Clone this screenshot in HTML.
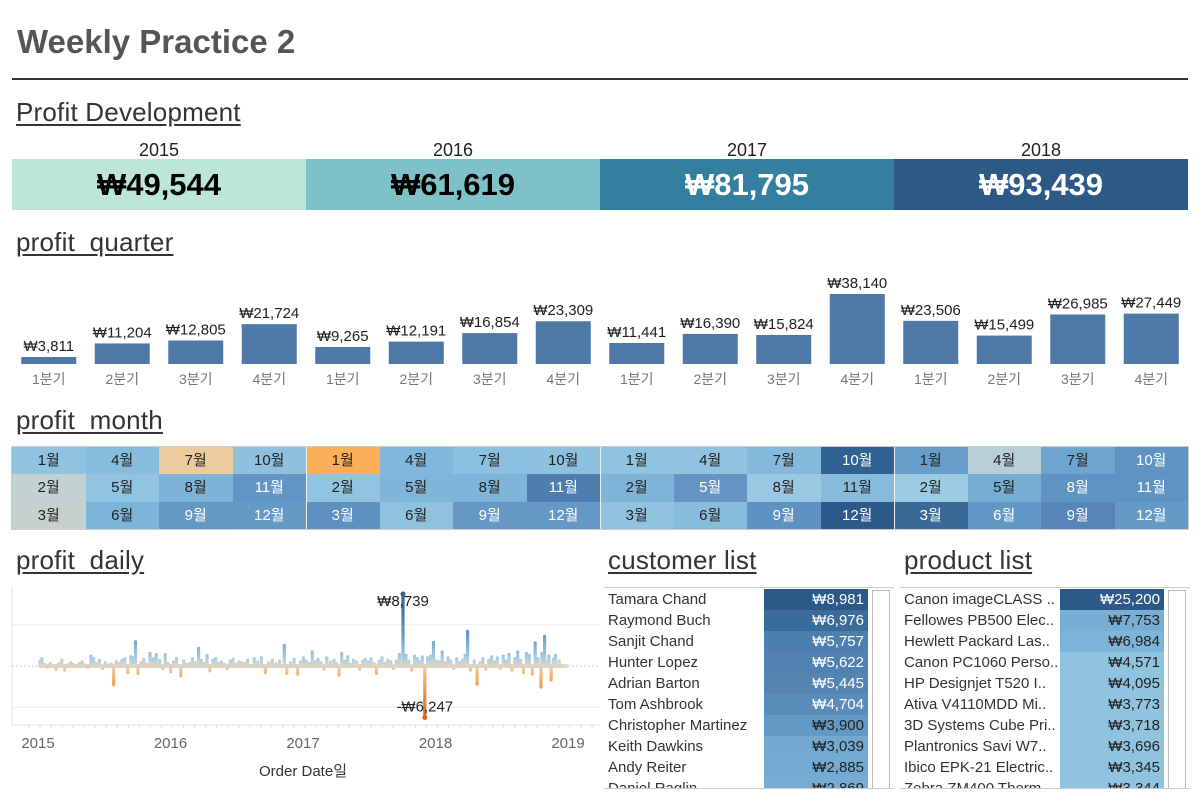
<!DOCTYPE html>
<html><head><meta charset="utf-8">
<style>
body{margin:0;width:1200px;height:800px;background:#fff;font-family:"Liberation Sans","Noto Sans CJK KR",sans-serif;position:relative;overflow:hidden;color:#333}
.abs{position:absolute}
.h2{font-size:26px;text-decoration:underline;color:#333;text-underline-offset:3px;letter-spacing:0.2px}
.yr{font-size:18px;color:#222;text-align:center;width:294px}
.kpi{height:51px;top:159px;font-size:31px;font-weight:bold;display:flex;align-items:center;justify-content:center}
.row{position:absolute;height:21px;font-size:15px;line-height:21px}
</style></head><body>
<div class="abs" style="left:17px;top:23px;font-size:33px;font-weight:bold;color:#555">Weekly Practice 2</div>
<div class="abs" style="left:12px;top:78px;width:1176px;height:2px;background:#333"></div>

<div class="abs h2" style="left:16px;top:97px">Profit Development</div>
<div class="abs yr" style="left:12px;top:140px">2015</div>
<div class="abs yr" style="left:306px;top:140px">2016</div>
<div class="abs yr" style="left:600px;top:140px">2017</div>
<div class="abs yr" style="left:894px;top:140px">2018</div>
<div class="abs kpi" style="left:12px;width:294px;background:#bde5d9;color:#000">₩49,544</div>
<div class="abs kpi" style="left:306px;width:294px;background:#7fc1c9;color:#000">₩61,619</div>
<div class="abs kpi" style="left:600px;width:294px;background:#347fa0;color:#fff">₩81,795</div>
<div class="abs kpi" style="left:894px;width:294px;background:#2c5985;color:#fff">₩93,439</div>

<div class="abs h2" style="left:16px;top:227px">profit_quarter</div>
<svg class="abs" id="qchart" style="left:0;top:260px" width="1200" height="130"></svg>

<div class="abs h2" style="left:16px;top:405px">profit_month</div>
<div class="abs" id="heat" style="left:12px;top:447px;width:1176px;height:82px;outline:1px solid #ccc"></div>

<div class="abs h2" style="left:16px;top:545px">profit_daily</div>
<svg class="abs" id="dchart" style="left:0;top:580px" width="600" height="220"></svg>

<div class="abs h2" style="left:608px;top:545px">customer list</div>
<div class="abs h2" style="left:904px;top:545px">product list</div>
<div class="abs" id="cust" style="left:604px;top:587px;width:290px;height:200px;border-top:1px solid #ccc;border-bottom:1px solid #ccc;overflow:hidden"></div>
<div class="abs" id="prod" style="left:900px;top:587px;width:290px;height:200px;border-top:1px solid #ccc;border-bottom:1px solid #ccc;overflow:hidden"></div>

<script>
// ---------- quarter chart ----------
const quarterLabels=["1분기","2분기","3분기","4분기","1분기","2분기","3분기","4분기","1분기","2분기","3분기","4분기","1분기","2분기","3분기","4분기"];
const quarterValues=[3811,11204,12805,21724,9265,12191,16854,23309,11441,16390,15824,38140,23506,15499,26985,27449];
const NS="http://www.w3.org/2000/svg";
function mk(p,t,a){const e=document.createElementNS(NS,t);for(const k in a)e.setAttribute(k,a[k]);p.appendChild(e);return e;}
const fmt=v=>(v<0?"-":"")+"₩"+Math.abs(v).toLocaleString("en-US");
(function(){
  const svg=document.getElementById('qchart');
  const base=104, maxH=70, maxV=38140;
  const y=v=>base-v/maxV*maxH;
  const x=i=>12+i*73.5+36.75;
  quarterValues.forEach((v,i)=>{
    const r=mk(svg,'rect',{x:x(i)-27.5,y:y(v),width:55,height:base-y(v),fill:'#4e79a7'});
    
    
    const t=mk(svg,'text',{x:x(i),y:y(v)-6,'text-anchor':'middle','font-size':15,fill:'#222'});
    t.textContent=fmt(v);
    
    
    const l=mk(svg,'text',{x:x(i),y:124,'text-anchor':'middle','font-size':14,fill:'#777'});
    l.textContent=quarterLabels[i];
    
    
  });
})();

// ---------- month heatmap ----------
const heatColors=[
 ["#8fc3e0","#c2d2d3","#c6d0cf","#86bddd","#90c4e0","#7db5d8","#eccc9f","#7db3d7","#6499c6","#8fc1df","#6396c4","#6599c6"],
 ["#fbaf58","#91c4e0","#5e90c0","#80b7da","#7eb5d9","#8fc2df","#8bc0de","#80b5d9","#6598c5","#8ec1df","#4d7ead","#6498c5"],
 ["#8fc3e0","#7fb3d7","#8fc3e0","#8fc3e0","#6394c3","#87bcdc","#85b9dc","#99c8e2","#5f92c1","#2f6292","#86bbdc","#2b5a88"],
 ["#679dc8","#9ccbe4","#386997","#b8cfd5","#77add3","#6397c5","#6ea5cf","#5f93c1","#5686b7","#5f93c1","#5f93c1","#669ac6"]];
const heatWhite=[[9,11,12],[3,9,11,12],[5,9,10,12],[3,6,8,9,10,11,12]];
(function(){
  const h=document.getElementById('heat');
  for(let y=0;y<4;y++)for(let m=1;m<=12;m++){
    const col=y*4+Math.floor((m-1)/3), row=(m-1)%3;
    const d=document.createElement('div');
    
    
    d.style.cssText=`position:absolute;left:${col*73.5}px;top:${row*27.3}px;width:73.5px;height:27.3px;background:${heatColors[y][m-1]};color:${heatWhite[y].includes(m)?'#fff':'#222'};font-size:15px;line-height:27px;text-align:center`;
    d.textContent=m+"월";
    h.appendChild(d);
  }
  [294,588,882].forEach(x=>{const s=document.createElement('div');s.style.cssText=`position:absolute;left:${x}px;top:0;width:1px;height:82px;background:#eee`;h.appendChild(s);});
})();

// ---------- daily chart ----------
const dailyDays=[0,5,12,20,28,36,44,52,60,68,76,84,92,100,108,116,124,132,140,148,156,164,172,180,188,196,203,210,218,226,234,242,250,256,263,270,278,286,294,303,312,320,330,338,345,352,360,368,376,388,396,404,412,420,428,437,444,452,460,468,476,484,492,500,508,516,524,532,540,548,556,564,572,580,590,600,610,621,630,640,650,660,673,680,690,700,710,718,726,734,742,750,758,766,774,782,790,800,810,816,824,831,840,848,856,864,872,880,888,896,904,912,920,927,934,942,950,958,966,974,982,990,1000,1008,1016,1024,1032,1040,1046,1053,1060,1068,1076,1084,1092,1100,1108,1116,1124,1132,1140,1148,1156,1164,1171,1178,1186,1196,1204,1212,1220,1228,1236,1244,1252,1260,1268,1276,1284,1292,1300,1308,1316,1324,1332,1340,1348,1356,1364,1372,1380,1383,1390,1396,1402,1408,1414,1420,1430,1438,1446,1455];
const dailyProfit=[600,900,200,-150,300,100,-400,250,700,-500,150,400,200,-100,300,500,150,-200,1200,900,300,700,-300,400,150,250,-2300,500,300,700,900,-800,1100,1000,2950,-900,400,800,200,1500,900,1400,700,-300,1400,300,-700,500,900,-1200,600,200,300,900,400,2150,700,300,1300,-600,700,900,300,500,200,-300,600,800,200,500,400,300,700,-100,900,500,1000,-800,400,700,300,600,2500,-900,400,800,-1000,500,1000,600,300,1700,500,800,400,-400,1000,500,700,300,-1100,1500,600,1100,200,700,500,-400,600,800,500,900,300,-900,600,1000,300,700,500,-300,600,1400,8739,1300,600,-500,1200,900,500,1100,-6247,1000,1200,2875,600,500,1700,400,1000,600,-300,900,400,700,1300,4200,-500,600,-2200,400,900,-400,700,1100,500,1000,-300,1200,600,1400,-500,900,1700,700,-800,1500,1300,-1000,2800,900,-2550,1500,3600,500,1200,-1700,800,1300,600];
(function(){
  const svg=document.getElementById('dchart');
  const zeroY=86, pxPer=72/8739;
  const y=v=>zeroY-v*pxPer;
  const x=d=>40+d/365*132.5;
  mk(svg,'line',{x1:12,y1:6,x2:12,y2:145,stroke:'#e4e4e4'});
  mk(svg,'line',{x1:12,y1:145,x2:600,y2:145,stroke:'#e4e4e4'});
  [5000,-5000].forEach(v=>mk(svg,'line',{x1:12,y1:y(v),x2:600,y2:y(v),stroke:'#ececec'}));
  mk(svg,'line',{x1:12,y1:zeroY,x2:600,y2:zeroY,stroke:'#bbb','stroke-dasharray':'1.5 2.5'});
  for(let m=-1;m<=52;m++){const xx=x(m*365/12);if(xx<14||xx>598)continue;mk(svg,'line',{x1:xx,y1:145,x2:xx,y2:148,stroke:'#ddd'});}
  const years=["2015","2016","2017","2018","2019"];
  years.forEach((yr,i)=>{const t=mk(svg,'text',{x:x(i*365)-2,y:168,'text-anchor':'middle','font-size':15,fill:'#666'});t.textContent=yr;
    });
  const at=mk(svg,'text',{x:303,y:196,'text-anchor':'middle','font-size':15,fill:'#333'});at.textContent="Order Date일";
  
  const defs=mk(svg,'defs',{});
  const g=mk(defs,'linearGradient',{id:'dg',gradientUnits:'userSpaceOnUse',x1:0,y1:y(8739),x2:0,y2:y(-6247)});
  [[0,'#2f5f8f'],[0.35,'#6a9dc8'],[0.52,'#a8cde4'],[0.585,'#ddd6c6'],[0.65,'#f5b66e'],[1,'#e0651f']].forEach(([o,c])=>mk(g,'stop',{offset:o,'stop-color':c}));
  let d='';
  dailyDays.forEach((dd,i)=>{d+=(i?'L':'M')+x(dd).toFixed(1)+','+y(0).toFixed(1)+'L'+x(dd).toFixed(1)+','+y(dailyProfit[i]).toFixed(1)+'L'+x(dd).toFixed(1)+','+y(0).toFixed(1);});
  const p=mk(svg,'path',{d:d,stroke:'url(#dg)','stroke-width':3.2,fill:'none','stroke-linejoin':'round'});
  
  
  mk(svg,'line',{x1:x(0),y1:zeroY,x2:x(dailyDays[dailyDays.length-1]),y2:zeroY,stroke:'#dcd2c2','stroke-width':4,opacity:0.8});
  const mi=dailyProfit.indexOf(Math.max(...dailyProfit)), ni=dailyProfit.indexOf(Math.min(...dailyProfit));
  [[mi,-1],[ni,1]].forEach(([i,s])=>{
    const xx=x(dailyDays[i]),yy=y(dailyProfit[i]);
    mk(svg,'circle',{cx:xx,cy:yy,r:2.5,fill:s<0?'#2f5f8f':'#e0651f'});
    const t=mk(svg,'text',{x:xx,y:s<0?yy+12:yy-6,'text-anchor':'middle','font-size':15,fill:'#222'});
    t.textContent=fmt(dailyProfit[i]);
    
    
  });
})();

// ---------- lists ----------
const customerNames=["Tamara Chand","Raymond Buch","Sanjit Chand","Hunter Lopez","Adrian Barton","Tom Ashbrook","Christopher Martinez","Keith Dawkins","Andy Reiter","Daniel Raglin"];
const customerProfit=[8981,6976,5757,5622,5445,4704,3900,3039,2885,2869];
const customerColors=["#2c5a88","#3a6c9b","#4d7fae","#5081b0","#5384b2","#5a8cba","#6498c5","#73a9d1","#75abd2","#77add3"];
const productNames=["Canon imageCLASS ..","Fellowes PB500 Elec..","Hewlett Packard Las..","Canon PC1060 Perso..","HP Designjet T520 I..","Ativa V4110MDD Mi..","3D Systems Cube Pri..","Plantronics Savi W7..","Ibico EPK-21 Electric..","Zebra ZM400 Therm.."];
const productProfit=[25200,7753,6984,4571,4095,3773,3718,3696,3345,3344];
const productColors=["#2b5a88","#78aed4","#7db4d8","#8fc3e0","#8fc3e0","#8fc3e0","#8fc3e0","#8fc3e0","#8fc3e0","#8fc3e0"];
function buildList(id,names,vals,cols,whiteN){
  const c=document.getElementById(id);
  names.forEach((n,i)=>{
    const r=document.createElement('div');
    
    
    r.className='row';r.style.cssText+=`left:0;top:${1+i*21}px;width:264px`;
    r.innerHTML=`<span style="position:absolute;left:4px;top:0;width:156px;overflow:hidden;white-space:nowrap;color:#333">${n}</span><span style="position:absolute;left:160px;top:0;width:100px;padding-right:4px;text-align:right;background:${cols[i]};color:${i<whiteN?'#fff':'#222'}">${fmt(vals[i])}</span>`;
    c.appendChild(r);
  });
  const sb=document.createElement('div');
  
  
  sb.style.cssText='position:absolute;left:268px;top:2px;width:18px;height:200px;border:1px solid #bbb;box-sizing:border-box';
  c.appendChild(sb);
}
buildList('cust',customerNames,customerProfit,customerColors,6);
buildList('prod',productNames,productProfit,productColors,1);
</script>
</body></html>
